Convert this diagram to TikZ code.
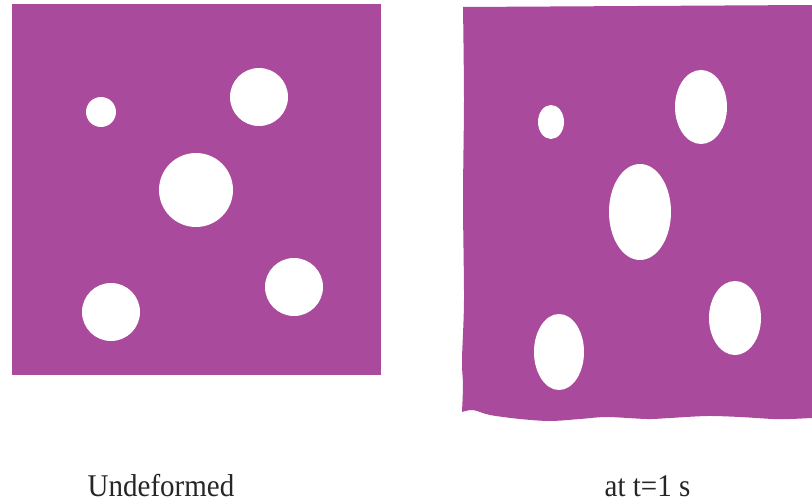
\documentclass[tikz,border=0pt]{standalone}
\usepackage{fontspec}
\setmainfont{Liberation Serif}
\definecolor{plum}{RGB}{170,74,156}
\begin{document}
\begin{tikzpicture}[x=1pt,y=-1pt,
  sheet/.style={fill=plum},
  hole/.style={fill=white},
  lbl/.style={font=\fontsize{29}{32}\selectfont, text=black!85, anchor=base, inner sep=0pt, yscale=1.09}]
\useasboundingbox (0,0) rectangle (812,503);
% undeformed sheet
\fill[sheet] (12,4) rectangle (381,375);
\fill[hole] (101,112) circle (15);
\fill[hole] (259,97) circle (29);
\fill[hole] (196,190) circle (37);
\fill[hole] (294,287) circle (29);
\fill[hole] (111,312) circle (29);
% deformed sheet
\fill[sheet] (463,7) -- (812,5) -- (812,418)
  -- plot[smooth] coordinates {(812,418) (790,419) (773,419) (740,417) (707,416) (670,418) (647,419) (607,417) (580,419) (550,421) (520,419) (490,415) (473,410) (462,412)}
  -- plot[smooth] coordinates {(462,412) (463,385) (462,360) (464,300) (463,200) (464,100) (463,7)}
  -- cycle;
\fill[hole] (551,122) ellipse [x radius=13, y radius=17];
\fill[hole] (701,107) ellipse [x radius=26, y radius=37];
\fill[hole] (640,212) ellipse [x radius=31, y radius=48];
\fill[hole] (735,318) ellipse [x radius=26, y radius=37];
\fill[hole] (559,352) ellipse [x radius=25, y radius=38];
% labels
\node[lbl] (undef) at (161,496) {Undeformed};
\node[lbl] (def) at (647.5,496) {at t=1 s};
\end{tikzpicture}
\end{document}
